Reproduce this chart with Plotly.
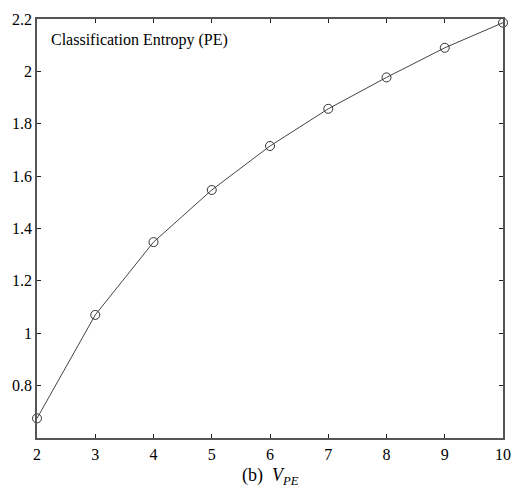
import plotly.graph_objects as go

clusters = [2, 3, 4, 5, 6, 7, 8, 9, 10]
pe_values = [0.675, 1.07, 1.348, 1.547, 1.715, 1.857, 1.977, 2.09, 2.186]
y_ticks = [0.8, 1.0, 1.2, 1.4, 1.6, 1.8, 2.0, 2.2]
y_labels = ["0.8", "1", "1.2", "1.4", "1.6", "1.8", "2", "2.2"]
x_ticks = [2, 3, 4, 5, 6, 7, 8, 9, 10]

font_family = "'Liberation Serif', 'DejaVu Serif', serif"

fig = go.Figure()
fig.add_trace(go.Scatter(
    x=clusters, y=pe_values, mode="lines+markers",
    line=dict(color="#444444", width=1),
    marker=dict(symbol="circle-open", size=9, color="#333333", line=dict(width=1)),
    cliponaxis=False, showlegend=False,
))

axis_common = dict(
    showline=True, linecolor="#555555", linewidth=1.5, mirror="ticks",
    ticks="inside", ticklen=4, tickcolor="#222222", tickwidth=1,
    showgrid=False, zeroline=False,
    tickfont=dict(family=font_family, size=16, color="#000000"),
)

fig.update_xaxes(range=[2, 10], tickvals=x_ticks, ticklabelstandoff=1, **axis_common)
fig.update_yaxes(range=[0.6, 2.2], tickvals=y_ticks, ticktext=y_labels, **axis_common)

fig.add_annotation(
    text="Classification Entropy (PE)", xref="paper", yref="paper",
    x=0.025, y=0.95, xanchor="left", yanchor="middle", showarrow=False,
    font=dict(family=font_family, size=16, color="#000000"),
)
fig.add_annotation(
    text="(b)  <i>V</i><sub><i>PE</i></sub>", xref="paper", yref="paper",
    x=0.5, y=-0.091, xanchor="center", yanchor="middle", showarrow=False,
    font=dict(family=font_family, size=18, color="#000000"),
)

fig.update_layout(
    width=522, height=493,
    margin=dict(l=37, r=11, t=17, b=55),
    paper_bgcolor="white", plot_bgcolor="white",
    font=dict(family=font_family),
)

fig.write_html("out.html")
